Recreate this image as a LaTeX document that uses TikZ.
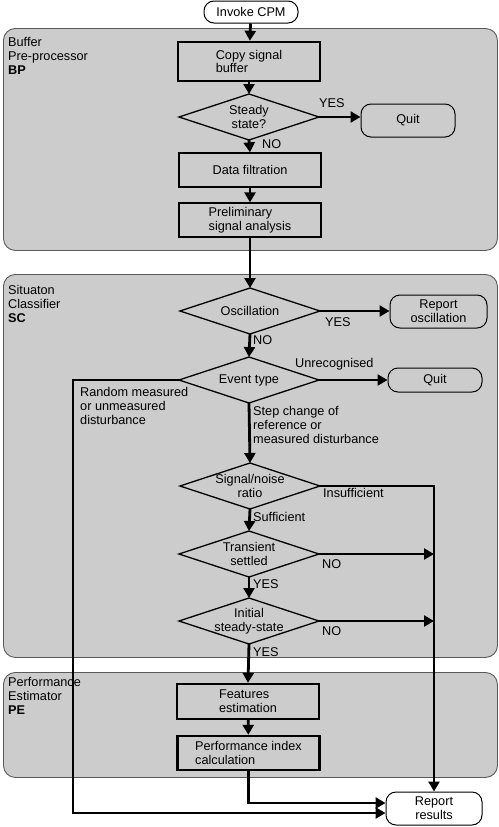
\documentclass[tikz,border=0pt]{standalone}
\usepackage{fontspec}
\setmainfont{Liberation Sans}
\usetikzlibrary{arrows.meta,shapes.geometric}
\definecolor{panelgray}{RGB}{204,204,204}
\definecolor{paneledge}{RGB}{90,90,90}
\begin{document}
\begin{tikzpicture}[x=1pt,y=-1pt,
  font=\fontsize{12.7}{13.8}\selectfont,
  panel/.style={draw=paneledge, line width=0.9pt, fill=panelgray, rounded corners=12pt, inner sep=0pt, anchor=north west},
  proc/.style={draw, line width=1.3pt, fill=panelgray, minimum width=142pt, minimum height=34pt, inner sep=0pt, align=left},
  procb/.style={proc, line width=2.4pt},
  term/.style={draw, line width=1pt, rounded corners=10pt, inner sep=0pt, align=center},
  dia/.style={draw, diamond, line width=1.3pt, fill=panelgray, minimum width=140pt, minimum height=46pt, inner sep=0pt, outer sep=0pt},
  dtext/.style={inner sep=0pt, align=center},
  flow/.style={line width=2.8pt, -{Triangle[length=10pt,width=11pt]}},
  lbl/.style={inner sep=0pt, anchor=west},
  mlbl/.style={inner sep=0pt, anchor=north west, align=left},
]
\useasboundingbox (0,0) rectangle (498,827);
% panels
\node[panel, minimum width=494pt, minimum height=222pt] (bp) at (3,28) {};
\node[panel, minimum width=494pt, minimum height=383pt] (sc) at (3,274) {};
\node[panel, minimum width=494pt, minimum height=105pt] (pe) at (3,672) {};
\node[mlbl] (bplbl) at (8,37.5) {Buffer\\Pre-processor\\\textbf{BP}};
\node[mlbl] (sclbl) at (8,285.5) {Situaton\\Classifier\\\textbf{SC}};
\node[mlbl] (pelbl) at (8,677.5) {Performance\\Estimator\\\textbf{PE}};
% nodes
\node[term, minimum width=94pt, minimum height=22pt] (inv) at (251,12) {Invoke CPM};
\node[procb, minimum height=39pt] (copy) at (249,61.5) {Copy signal\\buffer};
\node[dia] (d1) at (249,117) {};
\node[dtext] (d1t) at (d1) {Steady\\state?};
\node[term, minimum width=94pt, minimum height=33pt] (quit1) at (408,120.5) {Quit};
\node[proc] (filt) at (250,170) {Data filtration};
\node[proc] (prel) at (250,220) {Preliminary\\signal analysis};
\node[dia] (d2) at (250,311) {};
\node[dtext] (d2t) at (d2) {Oscillation};
\node[term, minimum width=97pt, minimum height=33pt] (rosc) at (438.5,311.5) {Report\\oscillation};
\node[dia] (d3) at (249,380) {};
\node[dtext] (d3t) at (d3) {Event type};
\node[term, minimum width=94pt, minimum height=24pt] (quit2) at (435,380) {Quit};
\node[dia] (d4) at (250,486) {};
\node[dtext] (d4t) at (d4) {Signal/noise\\ratio};
\node[dia] (d5) at (249,554) {};
\node[dtext] (d5t) at (d5) {Transient\\settled};
\node[dia] (d6) at (249,621) {};
\node[dtext] (d6t) at (d6) {Initial\\steady-state};
\node[procb, minimum height=35pt] (feat) at (248,701.5) {Features\\estimation};
\node[procb] (perf) at (248.5,753) {Performance index\\calculation};
\node[term, minimum width=96pt, minimum height=33pt] (rep) at (434,808.5) {Report\\results};
% connectors
\draw[flow] (inv) -- (copy);
\draw[flow] (copy) -- (d1);
\draw[flow] (d1.east) -- (d1.east -| quit1.west);
\draw[flow] (d1.south) -- (filt.north);
\draw[flow] (filt) -- (prel);
\draw[flow] (prel.south) -- (d2.north);
\draw[flow] (d2.east) -- (d2.east -| rosc.west);
\draw[flow] (d2.south) -- (d3.north);
\draw[flow] (d3.east) -- (quit2.west);
\draw[flow] (d3.south) -- (d4.north);
\draw[flow] (d3.west) -- ++(-106,0) |- ([yshift=-4.5pt]rep.west);
\draw[flow] (d4.east) -| (rep.north);
\draw[flow] (d4.south) -- (d5.north);
\draw[flow] (d5.east) -- (d5.east -| rep.north);
\draw[flow] (d5.south) -- (d6.north);
\draw[flow] (d6.east) -- (d6.east -| rep.north);
\draw[flow] (d6.south) -- (feat.north);
\draw[flow] (feat) -- (perf);
\draw[flow] (perf.south) |- ([yshift=5.5pt]rep.west);
% labels
\node[lbl] (l1) at (319,103) {YES};
\node[lbl] (l2) at (262,144) {NO};
\node[lbl] (l3) at (325,322) {YES};
\node[lbl] (l4) at (253,340) {NO};
\node[lbl] (l5) at (295,364) {Unrecognised};
\node[mlbl] (l6) at (80,387.5) {Random measured\\or unmeasured\\disturbance};
\node[mlbl] (l7) at (253,406.5) {Step change of\\reference or\\measured disturbance};
\node[lbl] (l8) at (323,493) {Insufficient};
\node[lbl] (l9) at (253,517) {Sufficient};
\node[lbl] (l10) at (322,564) {NO};
\node[lbl] (l11) at (253,584) {YES};
\node[lbl] (l12) at (322,631) {NO};
\node[lbl] (l13) at (253,652) {YES};
\end{tikzpicture}
\end{document}
